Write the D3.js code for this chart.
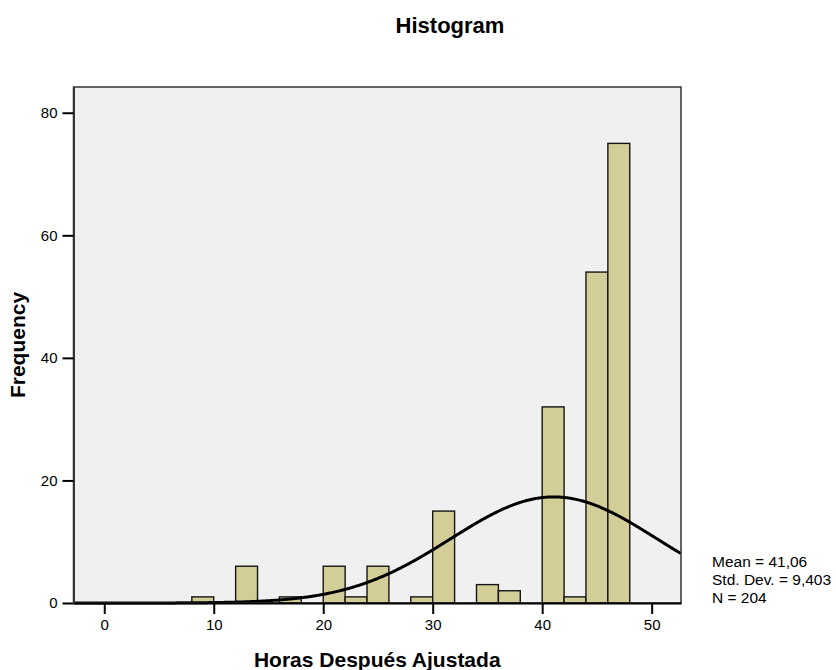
<!DOCTYPE html>
<html>
<head>
<meta charset="utf-8">
<script src="https://cdn.jsdelivr.net/npm/d3@7/dist/d3.min.js"></script>
<style>
  html, body { margin: 0; padding: 0; background: #fff; }
  svg { display: block; font-family: "Liberation Sans", Arial, sans-serif; }
</style>
</head>
<body>
<svg id="chart" width="836" height="670"></svg>
<script>
// Histogram bins (lower edge, width 2) and their frequencies
const binStarts = [8, 10, 12, 14, 16, 18, 20, 22, 24, 26, 28, 30, 32, 34, 36, 38, 40, 42, 44, 46];
const binCounts = [1, 0, 6, 0, 1, 0, 6, 1, 6, 0, 1, 15, 0, 3, 2, 0, 32, 1, 54, 75];
const binWidth = 2;

// Summary statistics for the fitted normal curve
const mean = 41.06;
const stdDev = 9.403;
const n = 204;

// Axis ticks
const xTicks = [0, 10, 20, 30, 40, 50];
const yTicks = [0, 20, 40, 60, 80];

const svg = d3.select("#chart");
const plot = { left: 73.5, right: 681, top: 87, bottom: 603 };

const x = d3.scaleLinear().domain([-2.81, 52.68]).range([plot.left, plot.right]);
const y = d3.scaleLinear().domain([0, 84.2]).range([plot.bottom, plot.top]);

const commaLocale = d3.formatLocale({ decimal: ",", thousands: ".", grouping: [3], currency: ["", ""] });

// Plot background
svg.append("rect")
  .attr("x", plot.left).attr("y", plot.top)
  .attr("width", plot.right - plot.left).attr("height", plot.bottom - plot.top)
  .attr("fill", "#f0f0f0");

// Bars
const bins = binStarts.map((s, i) => ({ x0: s, x1: s + binWidth, count: binCounts[i] }));
svg.append("g").selectAll("rect").data(bins).join("rect")
  .attr("x", d => x(d.x0))
  .attr("y", d => y(d.count))
  .attr("width", d => x(d.x1) - x(d.x0))
  .attr("height", d => y(0) - y(d.count))
  .attr("fill", "#d3ce97")
  .attr("stroke", "#151515")
  .attr("stroke-width", 1.4);

// Normal curve scaled to counts per bin
const scale = n * binWidth / (stdDev * Math.sqrt(2 * Math.PI));
const xs = d3.range(x.domain()[0], x.domain()[1] + 0.001, 0.1).concat([x.domain()[1]]);
const curve = xs.map(v => [v, scale * Math.exp(-0.5 * Math.pow((v - mean) / stdDev, 2))]);
svg.append("path")
  .datum(curve)
  .attr("fill", "none")
  .attr("stroke", "#000")
  .attr("stroke-width", 3)
  .attr("stroke-linejoin", "round")
  .attr("d", d3.line().x(d => x(d[0])).y(d => y(d[1])));

// Plot frame
svg.append("rect")
  .attr("x", plot.left).attr("y", plot.top)
  .attr("width", plot.right - plot.left).attr("height", plot.bottom - plot.top)
  .attr("fill", "none")
  .attr("stroke", "#333")
  .attr("stroke-width", 1.5);

// Axes
const xAxis = d3.axisBottom(x).tickValues(xTicks).tickSize(11).tickPadding(5).tickSizeOuter(0);
const gx = svg.append("g").attr("transform", `translate(0,${plot.bottom})`).call(xAxis);
gx.select(".domain").attr("stroke", "#000").attr("stroke-width", 2);
gx.selectAll(".tick line").attr("stroke", "#000").attr("stroke-width", 2);
gx.selectAll(".tick text").attr("font-size", 15).attr("fill", "#000")
  .attr("font-family", "Liberation Sans, Arial, sans-serif");

const yAxis = d3.axisLeft(y).tickValues(yTicks).tickSize(11).tickPadding(5).tickSizeOuter(0);
const gy = svg.append("g").attr("transform", `translate(${plot.left},0)`).call(yAxis);
gy.select(".domain").attr("stroke", "#333").attr("stroke-width", 2);
gy.selectAll(".tick line").attr("stroke", "#000").attr("stroke-width", 2);
gy.selectAll(".tick text").attr("font-size", 15).attr("fill", "#000")
  .attr("font-family", "Liberation Sans, Arial, sans-serif");

// Titles
svg.append("text")
  .attr("x", 450).attr("y", 33)
  .attr("text-anchor", "middle")
  .attr("font-size", 22).attr("font-weight", "bold")
  .text("Histogram");

svg.append("text")
  .attr("x", (plot.left + plot.right) / 2).attr("y", 667)
  .attr("text-anchor", "middle")
  .attr("font-size", 21).attr("font-weight", "bold")
  .text("Horas Después Ajustada");

svg.append("text")
  .attr("transform", `translate(25,${(plot.top + plot.bottom) / 2}) rotate(-90)`)
  .attr("text-anchor", "middle")
  .attr("font-size", 21).attr("font-weight", "bold")
  .text("Frequency");

// Summary statistics
const stats = [
  "Mean = " + commaLocale.format(".2f")(mean),
  "Std. Dev. = " + commaLocale.format(".3f")(stdDev),
  "N = " + n
];
svg.append("g").selectAll("text").data(stats).join("text")
  .attr("x", 712)
  .attr("y", (d, i) => 567 + i * 18)
  .attr("font-size", 15.5)
  .attr("fill", "#000")
  .text(d => d);
</script>
</body>
</html>
